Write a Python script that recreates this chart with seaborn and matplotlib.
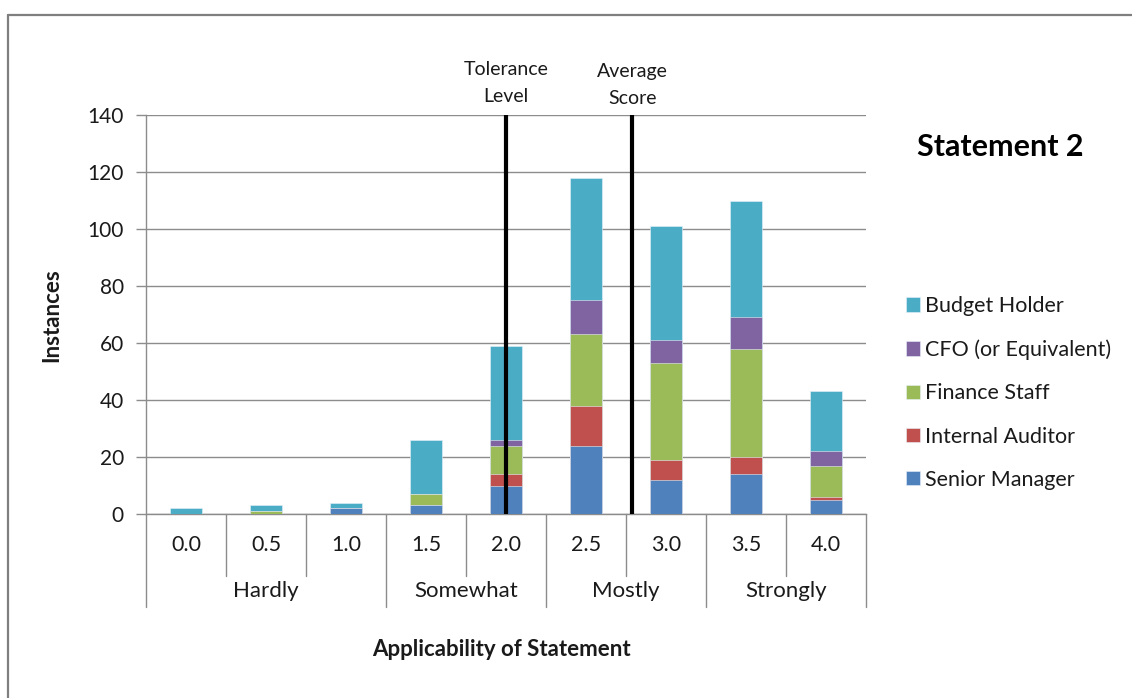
import matplotlib
matplotlib.use("Agg")
import matplotlib.pyplot as plt
import seaborn as sns
import pandas as pd
from matplotlib.lines import Line2D

# ---------------- data ----------------
categories = ["0.0", "0.5", "1.0", "1.5", "2.0", "2.5", "3.0", "3.5", "4.0"]
groups = ["Hardly", "Somewhat", "Mostly", "Strongly"]
group_sizes = [3, 2, 2, 2]
senior_manager = [0, 0, 2, 3, 10, 24, 12, 14, 5]
internal_auditor = [0, 0, 0, 0, 4, 14, 7, 6, 1]
finance_staff = [0, 1, 0, 4, 10, 25, 34, 38, 11]
cfo = [0, 0, 0, 0, 2, 12, 8, 11, 5]
budget_holder = [2, 2, 2, 19, 33, 43, 40, 41, 21]
series_names = ["Senior Manager", "Internal Auditor", "Finance Staff",
                "CFO (or Equivalent)", "Budget Holder"]
series_values = [senior_manager, internal_auditor, finance_staff, cfo, budget_holder]
colors = ["#4F81BD", "#C0504D", "#9BBB59", "#8064A2", "#4BACC6"]
tolerance_level = 2.0
average_score = 2.79
y_ticks = [0, 20, 40, 60, 80, 100, 120, 140]

# ---------------- style ----------------
sns.set_style("white")
plt.rcParams["font.family"] = ["Lato", "DejaVu Sans"]
txt = "#1a1a1a"
grid_c = "#8c8c8c"

W, H = 1132, 698
fig = plt.figure(figsize=(W / 100, H / 100), dpi=100)
L, R, T, B = 146, 866, 115, 514
ax = fig.add_axes([L / W, 1 - B / H, (R - L) / W, (B - T) / H])

# cumulative stacks
cum = [0] * len(categories)
cums = []
for vals in series_values:
    cum = [c + v for c, v in zip(cum, vals)]
    cums.append(list(cum))

for name, col, top in reversed(list(zip(series_names, colors, cums))):
    df = pd.DataFrame({"cat": categories, "val": top})
    sns.barplot(data=df, x="cat", y="val", order=categories, color=col,
                width=0.4, ax=ax, label=name, edgecolor="#e8f0f8", linewidth=0.4,
                saturation=1, zorder=3)

ax.set_xlim(-0.5, len(categories) - 0.5)
ax.set_ylim(0, 140)
ax.set_yticks(y_ticks)
ax.set_yticklabels([str(t) for t in y_ticks], fontsize=15, color=txt)
ax.yaxis.grid(True, color=grid_c, linewidth=1.0, zorder=0)
ax.set_axisbelow(True)
ax.tick_params(axis="y", length=7, width=1, color=grid_c, pad=9, direction="out", left=True)
ax.set_xticks([])
ax.set_xlabel("")
ax.set_ylabel("")
for s in ["top", "right"]:
    ax.spines[s].set_visible(False)
for s in ["left", "bottom"]:
    ax.spines[s].set_color(grid_c)
    ax.spines[s].set_linewidth(1.0)

# vertical reference lines
for v in [tolerance_level, average_score]:
    ax.axvline(v / 0.5, ymin=0, ymax=1, color="black", lw=3, zorder=5)

# category table below axis
tr = ax.get_xaxis_transform()
ph = B - T
short_y = -(576 - B) / ph
long_y = -(607 - B) / ph
for i, c in enumerate(categories):
    ax.text(i, -(545 - B) / ph, c, transform=tr, ha="center", va="center",
            fontsize=15.5, color=txt)
bounds = [-0.5]
for gs in group_sizes:
    bounds.append(bounds[-1] + gs)
for k in range(len(categories) + 1):
    x = k - 0.5
    y2 = long_y if x in bounds else short_y
    ax.add_line(Line2D([x, x], [0, y2], transform=tr, color=grid_c, lw=1.0, clip_on=False))
for g, a, b in zip(groups, bounds[:-1], bounds[1:]):
    ax.text((a + b) / 2, -(591 - B) / ph, g, transform=tr, ha="center", va="center",
            fontsize=16, color=txt)

# annotations above lines
ax.text(tolerance_level / 0.5, 1.0 + (T - 83) / ph, "Tolerance\nLevel", transform=tr,
        ha="center", va="center", fontsize=14, color=txt, linespacing=1.65)
ax.text(average_score / 0.5, 1.0 + (T - 85) / ph, "Average\nScore", transform=tr,
        ha="center", va="center", fontsize=14, color=txt, linespacing=1.65)

# axis titles
fig.text(501 / W, 1 - 650 / H, "Applicability of Statement", ha="center", va="center",
         fontsize=16, fontweight="bold", color=txt)
fig.text(52 / W, 1 - 315 / H, "Instances", ha="center", va="center", rotation=90,
         fontsize=16, fontweight="bold", color=txt)
fig.text(1000 / W, 1 - 147 / H, "Statement 2", ha="center", va="center",
         fontsize=22, fontweight="bold", color="black")

# legend (top-down: Budget Holder ... Senior Manager)
handles, labels = ax.get_legend_handles_labels()
order = {n: h for h, n in zip(handles, labels)}
leg_names = list(reversed(series_names))
ax.legend([order[n] for n in leg_names], leg_names, loc="center left",
          bbox_to_anchor=(906 / W, 1 - 393 / H), bbox_transform=fig.transFigure,
          frameon=False, fontsize=15.5, handlelength=0.65, handleheight=0.65,
          handletextpad=0.25, labelspacing=1.08, borderaxespad=0, borderpad=0,
          labelcolor=txt)

# outer frame
fig.add_artist(Line2D([8 / W, 1.0], [1 - 15 / H, 1 - 15 / H], transform=fig.transFigure,
                      color="#7f7f7f", lw=1.6))
fig.add_artist(Line2D([8 / W, 8 / W], [0, 1 - 15 / H], transform=fig.transFigure,
                      color="#7f7f7f", lw=1.6))

fig.savefig("out.png", dpi=100)
